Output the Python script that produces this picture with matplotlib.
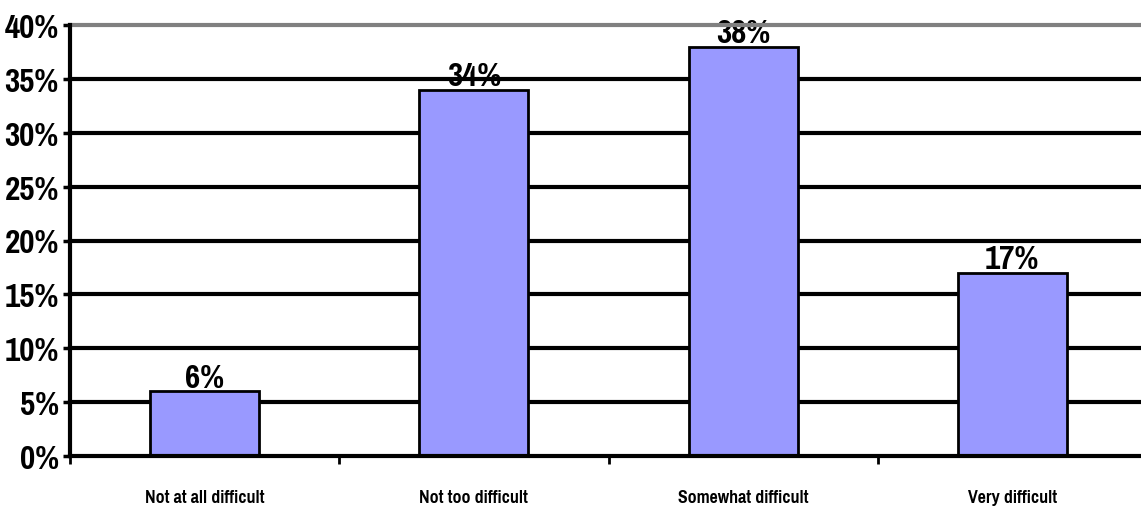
import matplotlib.pyplot as plt
import numpy as np

categories = ['Not at all difficult', 'Not too difficult', 'Somewhat difficult', 'Very difficult']
values = [6, 34, 38, 17]
yticks = [0, 5, 10, 15, 20, 25, 30, 35, 40]

font = ['Pragati Narrow', 'DejaVu Sans']

fig = plt.figure(figsize=(11.41, 5.10), dpi=100)
# plot area runs slightly past the right edge of the figure
ax = fig.add_axes([70 / 1141, 53 / 510, 1077 / 1141, 431 / 510])

x = np.arange(len(categories))
ax.bar(x, values, width=0.405, color='#9999ff', edgecolor='black', linewidth=2, zorder=3)

ax.set_xlim(-0.5, len(categories) - 0.5)
ax.set_ylim(0, 40)

# horizontal grid, top line in gray
for v in yticks[1:]:
    ax.axhline(v, color='#808080' if v == 40 else 'black', linewidth=3, zorder=2,
               clip_on=False)

for xi, v in zip(x, values):
    ax.text(xi, v + 0.45, f'{v}%', ha='center', va='baseline', fontsize=26,
            fontweight='bold', family=font, zorder=1)

ax.set_yticks(yticks)
ax.set_yticklabels([f'{t}%' for t in yticks], fontsize=26, fontweight='bold', family=font)
ax.tick_params(axis='y', length=5, width=2.5, pad=3)

# category ticks sit between the bars
ax.set_xticks(np.arange(-0.5, len(categories), 1.0))
ax.set_xticklabels([])
ax.set_xticks(x, minor=True)
ax.set_xticklabels(categories, minor=True, fontsize=14, fontweight='bold', family=font)
ax.tick_params(axis='x', which='major', length=6, width=2, direction='out')
ax.tick_params(axis='x', which='minor', length=0, pad=24)

for side in ['top', 'right']:
    ax.spines[side].set_visible(False)
ax.spines['left'].set_linewidth(3)
ax.spines['bottom'].set_linewidth(3)
ax.spines['left'].set_zorder(4)
ax.spines['bottom'].set_zorder(4)

fig.savefig('out.png', dpi=100)
